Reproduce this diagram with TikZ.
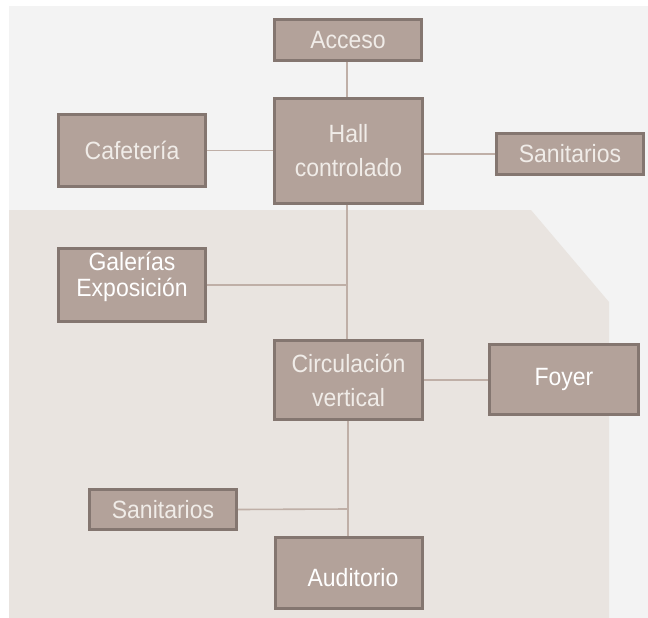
\documentclass[tikz,border=0pt]{standalone}
\usepackage{fontspec}
\setmainfont[FakeStretch=0.92]{Liberation Sans}
\definecolor{bgupper}{HTML}{F3F3F3}
\definecolor{bglower}{HTML}{E9E4E0}
\definecolor{boxfill}{HTML}{B3A29A}
\definecolor{boxedge}{HTML}{847670}
\definecolor{boxtext}{HTML}{F0ECE8}
\definecolor{linkcol}{HTML}{BFAFA7}
\tikzset{
  roombox/.style={draw=boxedge, line width=3pt, fill=boxfill, inner sep=0pt,
    text=boxtext, align=center, font=\fontsize{25}{34}\selectfont},
  roomtext/.style={inner sep=0pt, text=boxtext, align=center},
  link/.style={draw=linkcol, line width=1.6pt}
}
\begin{document}
\begin{tikzpicture}[x=1pt,y=-1pt]
\useasboundingbox (0,0) rectangle (648,618);
\fill[white] (0,0) rectangle (648,618);
\fill[bgupper] (9,6) rectangle (648,618);
\fill[bglower] (9,210) -- (531,210) -- (609,302) -- (609,618) -- (9,618) -- cycle;

\node[roombox, minimum width=147pt, minimum height=41pt] (acceso) at (348,40) {Acceso};
\node[roombox, minimum width=148pt, minimum height=105pt] (hall) at (348.5,151) {Hall\\controlado};
\node[roombox, minimum width=147pt, minimum height=72pt] (cafe) at (132,150.5) {Cafetería};
\node[roombox, minimum width=147pt, minimum height=41pt] (san1) at (570,154) {Sanitarios};
\node[roombox, minimum width=147pt, minimum height=73pt] (gal) at (132,285) {};
\node[roomtext, font=\fontsize{25}{26}\selectfont, text=white] (galtxt) at (132,277) {Galerías\\Exposición};
\node[roombox, minimum width=148pt, minimum height=79pt] (circ) at (348.5,380) {Circulación\\vertical};
\node[roombox, minimum width=149pt, minimum height=70pt, text=white] (foyer) at (564,379.5) {Foyer};
\node[roombox, minimum width=147pt, minimum height=40pt] (san2) at (163,509.5) {Sanitarios};
\node[roombox, minimum width=147pt, minimum height=71pt] (aud) at (349,573) {};
\node[roomtext, font=\fontsize{25}{34}\selectfont, text=white] (audtxt) at (353,578) {Auditorio};

\coordinate (jgal) at (347,285);
\coordinate (jsan) at (348,509);

\draw[link] (acceso.south -| 347,0) -- (hall.north -| 347,0);
\draw[link] (cafe.east) -- (cafe.east -| hall.west);
\draw[link] (san1.west -| hall.east) -- (san1.west);
\draw[link] (hall.south -| 347,0) -- (circ.north -| 347,0);
\draw[link] (gal.east) -- (jgal);
\draw[link] (circ.east) -- (circ.east -| foyer.west);
\draw[link] (circ.south -| 348,0) -- (aud.north -| 348,0);
\draw[link] (san2.east) -- (jsan);
\end{tikzpicture}
\end{document}
